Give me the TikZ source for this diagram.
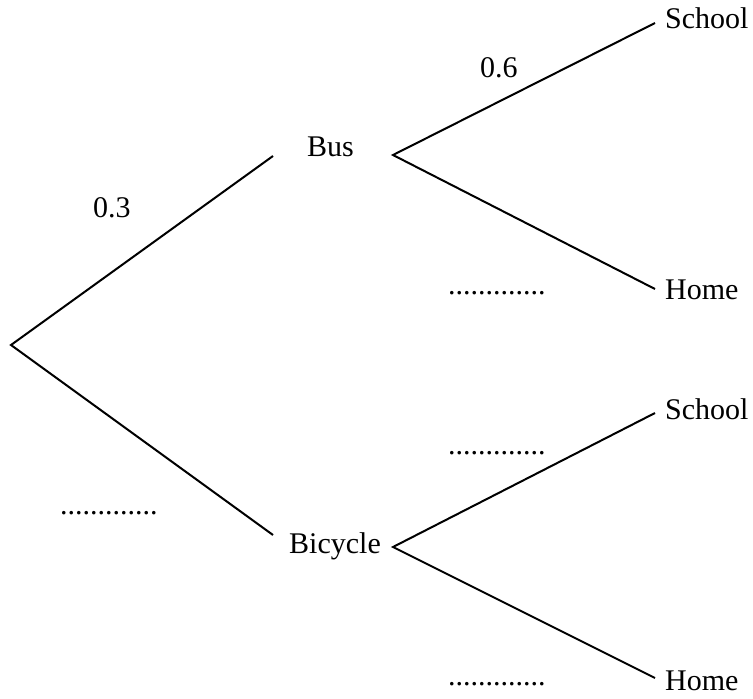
\documentclass[tikz,border=0pt]{standalone}
\usepackage{fontspec}
\setmainfont{Liberation Serif}
\begin{document}
\begin{tikzpicture}[x=1pt,y=-1pt,
  lbl/.style={inner sep=0pt,anchor=base west,font=\fontsize{30}{36}\selectfont},
  branch/.style={line width=2pt,line join=miter}]
\useasboundingbox (0,0) rectangle (753,699);
% branch points and line ends
\coordinate (root) at (11,345);
\coordinate (busend) at (273,156);
\coordinate (bicend) at (273,535);
\coordinate (busfork) at (393,155);
\coordinate (bicfork) at (393,547);
\coordinate (s1end) at (655,23);
\coordinate (h1end) at (655,289);
\coordinate (s2end) at (655,413);
\coordinate (h2end) at (655,678);
% labels
\node[lbl] (bus) at (307,156) {Bus};
\node[lbl] (bic) at (289,553) {Bicycle};
\node[lbl] (s1) at (665,28) {School};
\node[lbl] (h1) at (665,299) {Home};
\node[lbl] (s2) at (665,419) {School};
\node[lbl] (h2) at (665,690) {Home};
\node[lbl] (p3) at (93,217) {0.3};
\node[lbl] (p6) at (480,77) {0.6};
\node[lbl] (d1) at (448,294) {.............};
\node[lbl] (d2) at (448,454) {.............};
\node[lbl] (d3) at (60,514) {.............};
\node[lbl] (d4) at (448,685) {.............};
% connectors
\draw[branch] (busend) -- (root) -- (bicend);
\draw[branch] (s1end) -- (busfork) -- (h1end);
\draw[branch] (s2end) -- (bicfork) -- (h2end);
\end{tikzpicture}
\end{document}
